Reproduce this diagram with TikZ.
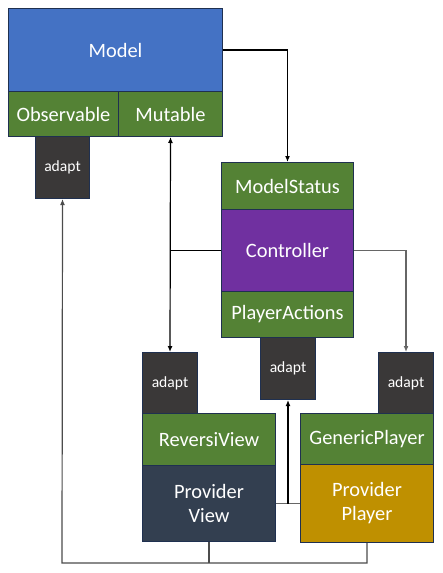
\documentclass[tikz,border=0pt]{standalone}
\usepackage{fontspec}
\setmainfont{Carlito}
\usetikzlibrary{arrows.meta}
\definecolor{mblue}{HTML}{4472C4}
\definecolor{mgreen}{HTML}{548235}
\definecolor{mpurple}{HTML}{7030A0}
\definecolor{mdark}{HTML}{3A3838}
\definecolor{mslate}{HTML}{333F50}
\definecolor{mgold}{HTML}{BF9000}
\definecolor{mborder}{HTML}{1F3050}
\tikzset{
  box/.style={draw=mborder, line width=1pt, text=white, inner sep=0pt, anchor=north west, align=center,
    font=\fontsize{20.4}{24}\selectfont},
  adaptbox/.style={box, fill=mdark, minimum width=54pt, minimum height=62pt, font=\fontsize{15.6}{18}\selectfont},
  conn/.style={line width=1.2pt, black},
  arr/.style={conn, -{Latex[length=6pt,width=5pt]}},
}
\begin{document}
\begin{tikzpicture}[x=1pt,y=-1pt]
\useasboundingbox (0,0) rectangle (442,573);
% nodes
\node[box, fill=mblue, minimum width=214pt, minimum height=83pt] (model) at (8,8) {Model};
\node[box, fill=mgreen, minimum width=110pt, minimum height=45pt] (obs) at (8,91) {Observable};
\node[box, fill=mgreen, minimum width=104pt, minimum height=45pt] (mut) at (118,91) {Mutable};
\node[adaptbox] (adaptL) at (35,136) {adapt};
\node[box, fill=mgreen, minimum width=132pt, minimum height=47pt] (ms) at (221,162) {ModelStatus};
\node[box, fill=mpurple, minimum width=132pt, minimum height=82pt] (ctrl) at (221,209) {Controller};
\node[box, fill=mgreen, minimum width=132pt, minimum height=46pt] (pa) at (221,291) {PlayerActions};
\node[adaptbox, minimum width=55pt] (adaptC) at (260,337) {adapt};
\node[adaptbox, minimum width=55pt, minimum height=61pt] (adaptV) at (142,352) {adapt};
\node[adaptbox, minimum width=55pt, minimum height=61pt] (adaptR) at (378,352) {adapt};
\node[box, fill=mgreen, minimum width=133pt, minimum height=52pt] (rv) at (142,413) {ReversiView};
\node[box, fill=mslate, minimum width=133pt, minimum height=76pt] (pv) at (142,465) {Provider\\View};
\node[box, fill=mgreen, minimum width=133pt, minimum height=51pt] (gp) at (300,413) {GenericPlayer};
\node[box, fill=mgold, minimum width=133pt, minimum height=78pt] (pp) at (300,464) {Provider\\Player};
% connectors
\draw[arr] (model.east) -| (ms.north);
\draw[arr, {Latex[length=6pt,width=5pt]}-{Latex[length=6pt,width=5pt]}] (mut.south) -- (adaptV.north);
\draw[conn] (ctrl.west) -- (ctrl.west -| mut.south);
\draw[arr, draw=gray!80!black] (ctrl.east) -| (adaptR.north);
\draw[conn, draw=gray!80!black] (pv.east) -- (pp.west);
\draw[arr] (pv.east -| adaptC.south) -- (adaptC.south);
\coordinate (bot) at (62,563);
\draw[arr, draw=gray!60!black] (pp.south) |- (bot) -- (adaptL.south);
\draw[conn, draw=gray!60!black] (pv.south) -- (pv.south |- bot);
\end{tikzpicture}
\end{document}
